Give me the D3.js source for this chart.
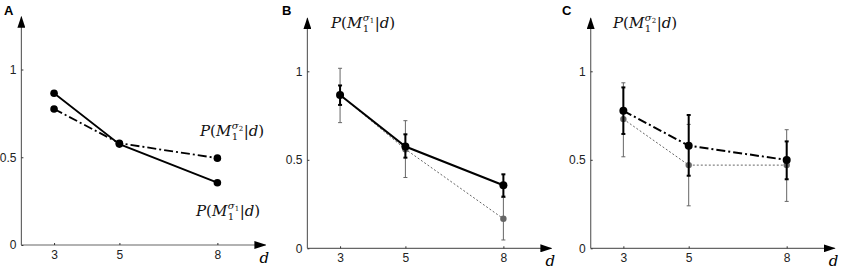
<!DOCTYPE html>
<html>
<head>
<meta charset="utf-8">
<script src="https://cdn.jsdelivr.net/npm/d3@7"></script>
<style>
  body { margin: 0; background: #fff; }
  svg { display: block; }
</style>
</head>
<body>
<svg></svg>
<script>
// values
var dVals = [3, 5, 8];
var yTicks = [0, 0.5, 1];

// panel A
var aSigma1 = [0.865, 0.575, 0.355];
var aSigma2 = [0.775, 0.58, 0.495];

// panel B (sigma1): model (black) and data (grey)
var bModel = [0.866, 0.575, 0.356];
var bModelLo = [0.81, 0.512, 0.292];
var bModelHi = [0.92, 0.644, 0.418];
var bData = [0.866, 0.56, 0.167];
var bDataLo = [0.71, 0.40, 0.047];
var bDataHi = [1.017, 0.721, 0.287];

// panel C (sigma2)
var cModel = [0.777, 0.58, 0.499];
var cModelLo = [0.646, 0.41, 0.39];
var cModelHi = [0.909, 0.753, 0.604];
var cData = [0.73, 0.47, 0.47];
var cDataLo = [0.517, 0.24, 0.265];
var cDataHi = [0.935, 0.70, 0.67];

var width = 843;
var height = 269;

var svg = d3.select('svg')
  .attr('width', width)
  .attr('height', height);

var defs = svg.append('defs');
defs.append('marker')
  .attr('id', 'arrow')
  .attr('viewBox', '0 0 12 8')
  .attr('refX', 11).attr('refY', 4)
  .attr('markerWidth', 12).attr('markerHeight', 8)
  .attr('markerUnits', 'userSpaceOnUse')
  .attr('orient', 'auto')
  .append('path')
  .attr('d', 'M0,0 L12,4 L0,8 Z')
  .attr('fill', '#000');

var serif = 'DejaVu Serif, serif';

// draw one panel's frame; returns the scales
function makePanel(letter, x0, y0, yOne, letterX) {
  var x = d3.scaleLinear().domain([2, 9.47]).range([x0, x0 + 244]);
  var y = d3.scaleLinear().domain([0, 1]).range([y0, yOne]);
  var g = svg.append('g');

  g.append('text')
    .attr('x', letterX).attr('y', 15)
    .attr('font-family', 'Liberation Sans, Arial, sans-serif')
    .attr('font-weight', 'bold').attr('font-size', 13)
    .text(letter);

  // axes with arrows
  g.append('line')
    .attr('x1', x(2)).attr('y1', y(0))
    .attr('x2', x(2)).attr('y2', y(1.3))
    .attr('stroke', '#666').attr('stroke-width', 1.2)
    .attr('marker-end', 'url(#arrow)');
  g.append('line')
    .attr('x1', x(2)).attr('y1', y(0))
    .attr('x2', x(9.47)).attr('y2', y(0))
    .attr('stroke', '#666').attr('stroke-width', 1.2)
    .attr('marker-end', 'url(#arrow)');

  var yAxis = d3.axisLeft(y).tickValues(yTicks).tickSize(-2).tickPadding(5)
    .tickFormat(function(d) { return d === 0.5 ? '0.5' : d3.format('d')(d); });
  var ya = g.append('g').attr('transform', 'translate(' + x(2) + ',0)').call(yAxis);
  var xAxis = d3.axisBottom(x).tickValues(dVals).tickSize(-2).tickPadding(5);
  var xa = g.append('g').attr('transform', 'translate(0,' + y(0) + ')').call(xAxis);
  [ya, xa].forEach(function(a) {
    a.select('.domain').remove();
    a.selectAll('.tick line').attr('stroke', '#333');
    a.selectAll('.tick text')
      .attr('font-family', 'Liberation Sans, Arial, sans-serif')
      .attr('font-size', 12).attr('fill', '#222');
  });

  g.append('text')
    .attr('x', x(9.47) - 6).attr('y', y(0) + 18)
    .attr('font-family', serif)
    .attr('font-style', 'italic').attr('font-size', 15)
    .text('d');

  return { g: g, x: x, y: y };
}

// P(M_1^{sigma_k}|d)
function mathLabel(g, x, y, k) {
  var lbl = g.append('g').attr('font-family', serif).attr('fill', '#111');
  var t1 = lbl.append('text').attr('x', x).attr('y', y)
    .attr('font-size', 15)
    .html('<tspan font-style="italic">P</tspan><tspan>(</tspan><tspan font-style="italic">M</tspan>');
  var w1 = t1.node().getComputedTextLength();
  var sx = x + w1 + 0.5;
  var sig = lbl.append('text').attr('x', sx).attr('y', y - 7)
    .attr('font-size', 10).attr('font-style', 'italic').text('\u03c3');
  var ws = sig.node().getComputedTextLength();
  lbl.append('text').attr('x', sx + ws).attr('y', y - 5)
    .attr('font-size', 7).text(k);
  lbl.append('text').attr('x', sx).attr('y', y + 4)
    .attr('font-size', 10).text('1');
  lbl.append('text').attr('x', sx + ws + 5).attr('y', y)
    .attr('font-size', 15)
    .html('|<tspan font-style="italic">d</tspan>)');
}

function drawSeries(p, vals, opts) {
  var line = d3.line()
    .x(function(d, i) { return p.x(dVals[i]); })
    .y(function(d) { return p.y(d); });
  if (opts.lo) {
    var eb = p.g.append('g').attr('stroke', opts.color).attr('stroke-width', opts.ebWidth);
    vals.forEach(function(v, i) {
      var cx = p.x(dVals[i]);
      eb.append('line').attr('x1', cx).attr('x2', cx)
        .attr('y1', p.y(opts.lo[i])).attr('y2', p.y(opts.hi[i]));
      [opts.lo[i], opts.hi[i]].forEach(function(e) {
        eb.append('line').attr('x1', cx - 2).attr('x2', cx + 2)
          .attr('y1', p.y(e)).attr('y2', p.y(e));
      });
    });
  }
  p.g.append('path')
    .datum(vals)
    .attr('d', line)
    .attr('fill', 'none')
    .attr('stroke', opts.color)
    .attr('stroke-width', opts.width)
    .attr('stroke-dasharray', opts.dash || null);
  p.g.selectAll(null)
    .data(vals)
    .enter().append('circle')
    .attr('cx', function(d, i) { return p.x(dVals[i]); })
    .attr('cy', function(d) { return p.y(d); })
    .attr('r', opts.r)
    .attr('fill', opts.color);
}

var dashDot = '9,3,2,3';

// A
var pA = makePanel('A', 21.4, 245, 69.5, 4);
drawSeries(pA, aSigma2, { color: '#000', width: 1.8, dash: dashDot, r: 3.8 });
drawSeries(pA, aSigma1, { color: '#000', width: 1.8, r: 3.8 });
mathLabel(pA.g, 200, 136, '2');
mathLabel(pA.g, 196, 216, '1');

// B
var pB = makePanel('B', 307.4, 248.3, 71.3, 282);
drawSeries(pB, bData, { color: '#666', width: 1, dash: '2,2', r: 3.2, lo: bDataLo, hi: bDataHi, ebWidth: 1 });
drawSeries(pB, bModel, { color: '#000', width: 2, r: 4, lo: bModelLo, hi: bModelHi, ebWidth: 2 });
mathLabel(pB.g, 331, 28, '1');

// C
var pC = makePanel('C', 590.7, 248.3, 71.3, 562);
drawSeries(pC, cData, { color: '#666', width: 1, dash: '2,2', r: 3.2, lo: cDataLo, hi: cDataHi, ebWidth: 1 });
drawSeries(pC, cModel, { color: '#000', width: 2, dash: dashDot, r: 4, lo: cModelLo, hi: cModelHi, ebWidth: 2 });
mathLabel(pC.g, 613, 28, '2');
</script>
</body>
</html>
